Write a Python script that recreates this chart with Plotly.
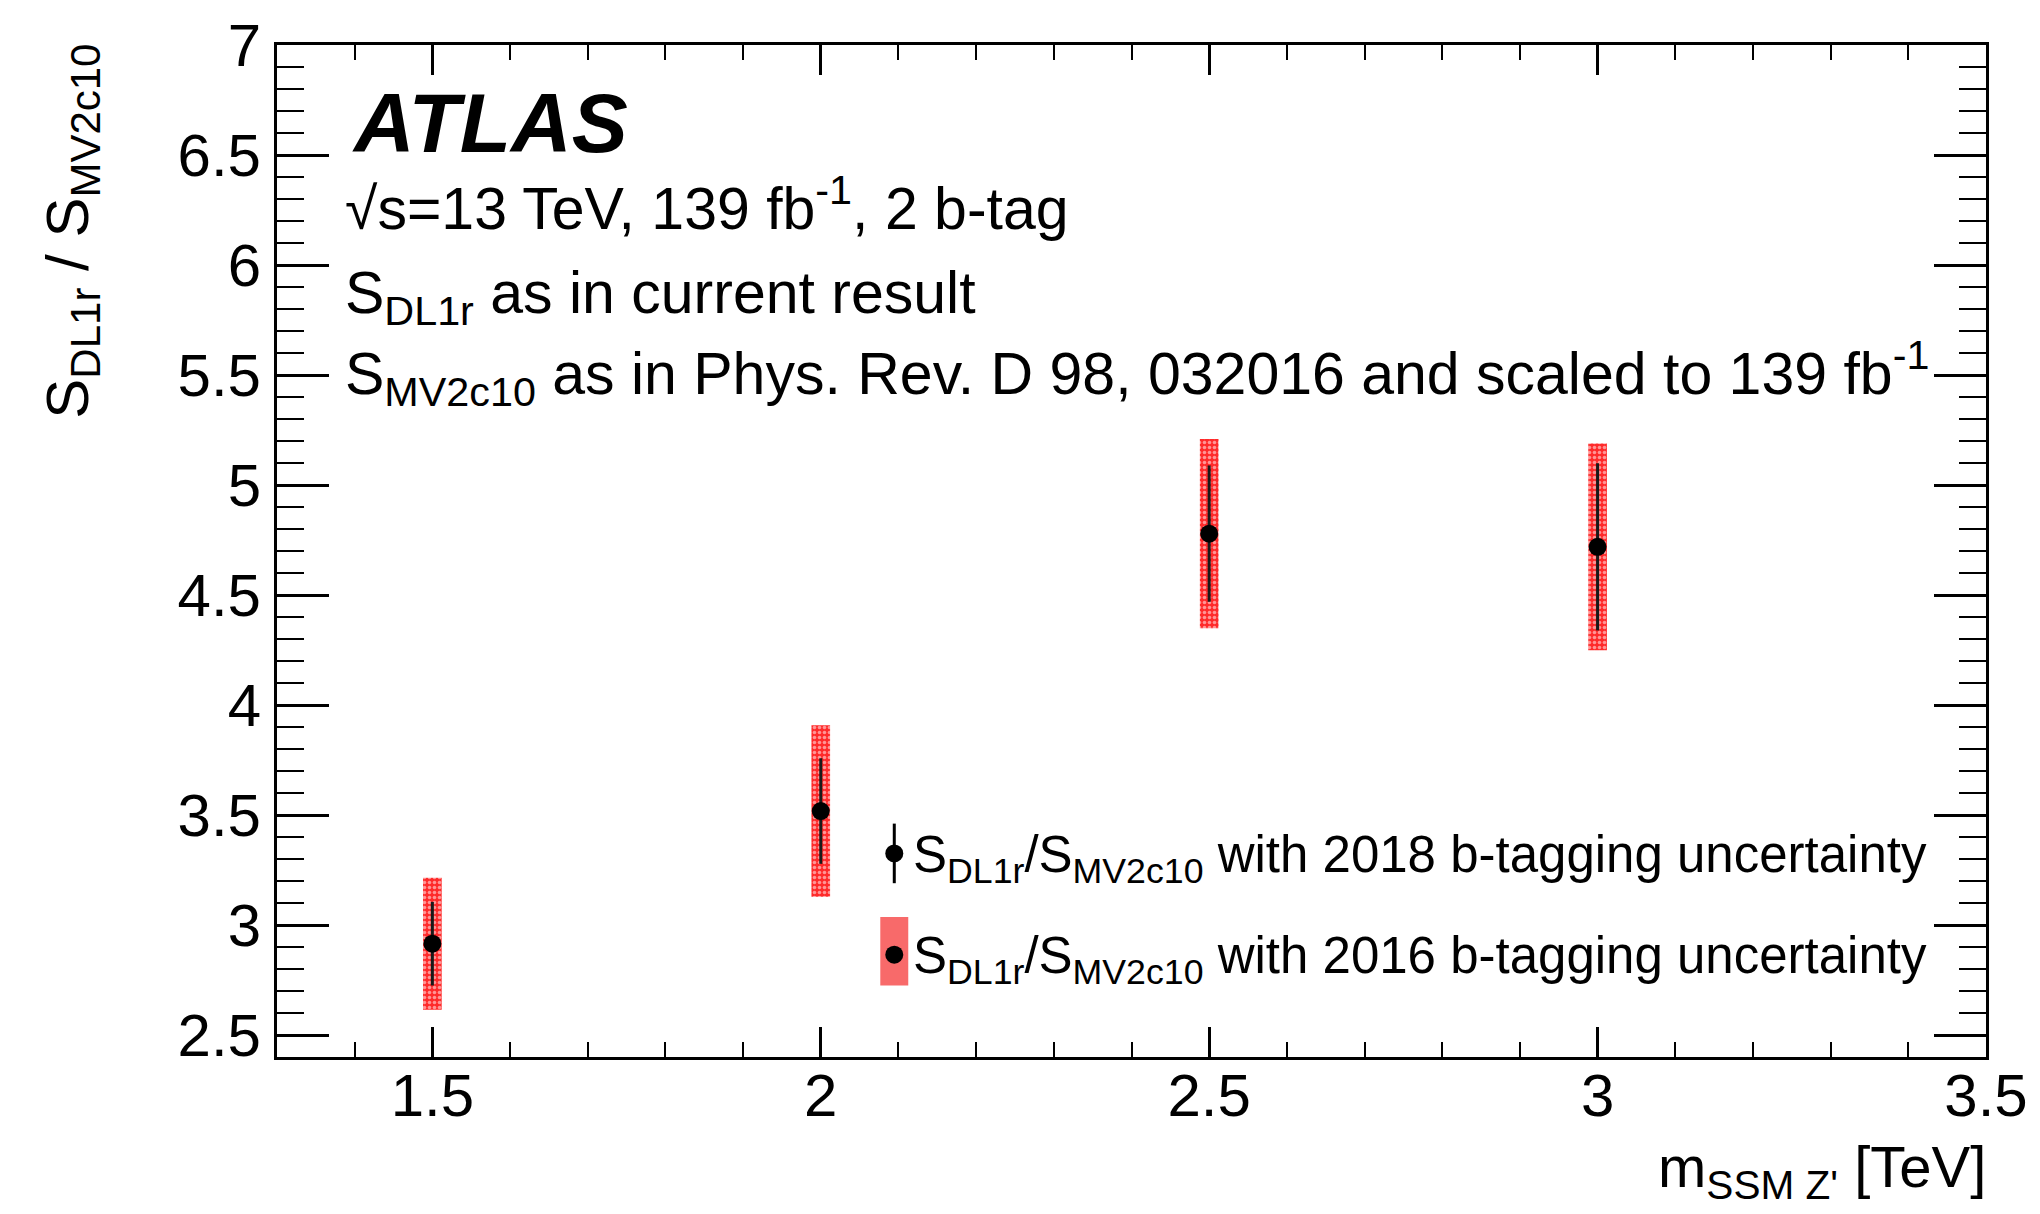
import plotly.graph_objects as go

# Z' mass points [TeV] and signal ratio S_DL1r / S_MV2c10
mass = [1.5, 2.0, 2.5, 3.0]
ratio = [2.915, 3.518, 4.779, 4.719]
# uncertainty with 2018 b-tagging calibration (black bars)
err_2018 = [0.19, 0.24, 0.31, 0.38]
# uncertainty with 2016 b-tagging calibration (red hatched boxes)
err_2016 = [0.30, 0.39, 0.43, 0.47]

FONT = "Liberation Sans, Arial, Helvetica, sans-serif"

# plot-area geometry in pixels (used to place the text block and legend)
W, H = 2040, 1214
L, R, T, B = 277, 52, 38, 157
PW, PH = W - L - R, H - T - B


def px(xp):
    return (xp - L) / PW


def py(yp):
    return (H - B - yp) / PH


fig = go.Figure()

fig.add_trace(go.Bar(
    x=mass,
    base=[r - e for r, e in zip(ratio, err_2016)],
    y=[2 * e for e in err_2016],
    width=0.024,
    marker=dict(
        color="#ff2a2a",
        line=dict(width=0),
        pattern=dict(shape=".", fgcolor="white", bgcolor="#ff2a2a",
                     size=5, solidity=0.4, fillmode="overlay"),
    ),
    showlegend=False,
    hoverinfo="skip",
))

fig.add_trace(go.Scatter(
    x=mass,
    y=ratio,
    mode="markers",
    marker=dict(color="black", size=18),
    error_y=dict(type="data", array=err_2018, color="#1a1a1a",
                 thickness=3, width=0),
    showlegend=False,
))

axis_common = dict(
    showgrid=False, zeroline=False,
    showline=True, linecolor="black", linewidth=3, mirror="allticks",
    ticks="inside", tickcolor="black", tickwidth=2.5,
    tickfont=dict(family=FONT, size=60, color="black"),
)

fig.update_xaxes(
    range=[1.3, 3.5], dtick=0.5, tick0=0, ticklen=30,
    minor=dict(dtick=0.1, tick0=0, ticks="inside", ticklen=15,
               tickwidth=2, tickcolor="black"),
    ticklabelstandoff=-16,
    **axis_common,
)
fig.update_yaxes(
    range=[2.4, 7.0001], dtick=0.5, tick0=0, ticklen=52,
    minor=dict(dtick=0.1, tick0=0, ticks="inside", ticklen=27,
               tickwidth=2, tickcolor="black"),
    ticklabelstandoff=1,
    **axis_common,
)

ann = []


def text(s, xp, yp, size, xanchor="left", yanchor="middle", **kw):
    ann.append(dict(text=s, x=px(xp), y=py(yp), xref="paper", yref="paper",
                    xanchor=xanchor, yanchor=yanchor, showarrow=False,
                    font=dict(family=FONT, size=size, color="black"), **kw))


text("<b><i>ATLAS</i></b>", 350, 117, 84)
text("√s=13 TeV, 139 fb<sup>-1</sup>, 2 b-tag", 343, 199, 59)
text("S<sub>DL1r</sub> as in current result", 343, 292, 59)
text("S<sub>MV2c10</sub> as in Phys. Rev. D 98, 032016 and scaled to 139 fb<sup>-1</sup>",
     343, 369, 59)

# legend entries
text("S<sub>DL1r</sub>/S<sub>MV2c10</sub> with 2018 b-tagging uncertainty", 912, 857, 51)
text("S<sub>DL1r</sub>/S<sub>MV2c10</sub> with 2016 b-tagging uncertainty", 912, 959, 51)

# axis titles
text("m<sub>SSM Z'</sub> [TeV]", 1990, 1172, 58, xanchor="right")
ann.append(dict(text="S<sub>DL1r</sub> / S<sub>MV2c10</sub>", x=px(72), y=1.003,
                xref="paper", yref="paper", xanchor="center", yanchor="top",
                textangle=-90, showarrow=False,
                font=dict(family=FONT, size=60, color="black")))

shapes = [
    # legend key: marker with error bar
    dict(type="line", xref="paper", yref="paper", x0=px(895), x1=px(895),
         y0=py(822), y1=py(882), line=dict(color="black", width=3)),
    dict(type="circle", xref="paper", yref="paper", xsizemode="pixel",
         ysizemode="pixel", xanchor=px(895), yanchor=py(852),
         x0=-9, x1=9, y0=-9, y1=9, fillcolor="black", line=dict(width=0)),
    # legend key: hatched box with marker
    dict(type="rect", xref="paper", yref="paper", x0=px(881), x1=px(909),
         y0=py(985), y1=py(916), fillcolor="#f86a6a", line=dict(width=0)),
    dict(type="circle", xref="paper", yref="paper", xsizemode="pixel",
         ysizemode="pixel", xanchor=px(895), yanchor=py(954),
         x0=-9, x1=9, y0=-9, y1=9, fillcolor="black", line=dict(width=0)),
]

fig.update_layout(
    width=W, height=H,
    margin=dict(l=L, r=R, t=T, b=B),
    paper_bgcolor="white", plot_bgcolor="white",
    barmode="overlay",
    annotations=ann,
    shapes=shapes,
    font=dict(family=FONT, color="black"),
)

fig.write_html("out.html")
